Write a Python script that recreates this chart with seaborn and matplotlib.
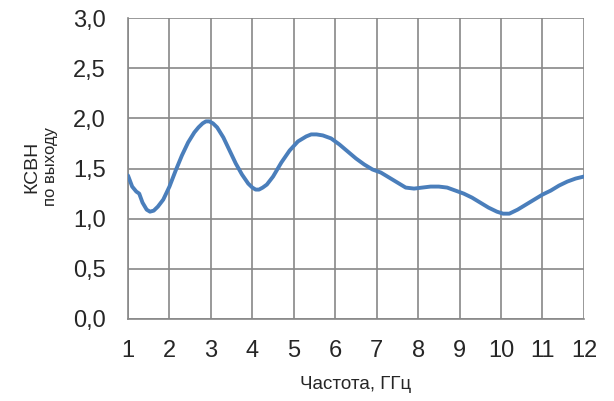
import matplotlib
matplotlib.use("Agg")
import matplotlib.pyplot as plt
import seaborn as sns
import pandas as pd

# --- Data ---
freq = [1.0, 1.1, 1.2, 1.27, 1.35, 1.45, 1.53, 1.62, 1.72, 1.85,
        2.0, 2.15, 2.3, 2.45, 2.6, 2.7, 2.8, 2.88, 2.96, 3.05, 3.15, 3.3,
        3.45, 3.6, 3.75, 3.9, 4.0, 4.08, 4.16, 4.25, 4.35, 4.5, 4.7, 4.9,
        5.1, 5.3, 5.42, 5.55, 5.7, 5.9, 6.1, 6.3, 6.5, 6.7, 6.9,
        7.1, 7.3, 7.5, 7.7, 7.9, 8.1, 8.3, 8.5, 8.7, 8.9,
        9.1, 9.3, 9.5, 9.7, 9.9, 10.05, 10.2, 10.4, 10.6, 10.8,
        11.0, 11.2, 11.4, 11.6, 11.8, 12.0]
vswr = [1.43, 1.32, 1.27, 1.25, 1.16, 1.09, 1.07, 1.08, 1.12, 1.19,
        1.32, 1.48, 1.63, 1.76, 1.86, 1.91, 1.95, 1.97, 1.97, 1.95, 1.91, 1.81,
        1.68, 1.55, 1.44, 1.35, 1.31, 1.29, 1.29, 1.31, 1.34, 1.42, 1.56, 1.68,
        1.77, 1.82, 1.84, 1.84, 1.83, 1.80, 1.74, 1.67, 1.60, 1.54, 1.49,
        1.46, 1.41, 1.36, 1.31, 1.30, 1.31, 1.32, 1.32, 1.31, 1.28,
        1.25, 1.21, 1.16, 1.11, 1.07, 1.05, 1.05, 1.09, 1.14, 1.19,
        1.24, 1.28, 1.33, 1.37, 1.40, 1.42]
x_ticks = list(range(1, 13))
y_ticks = [0.0, 0.5, 1.0, 1.5, 2.0, 2.5, 3.0]
y_labels = ["0,0", "0,5", "1,0", "1,5", "2,0", "2,5", "3,0"]

df = pd.DataFrame({"freq": freq, "vswr": vswr})

sns.set_style("white")
plt.rcParams["font.family"] = ["Liberation Sans", "DejaVu Sans"]

GRID = "#888888"

fig = plt.figure(figsize=(6.14, 4.01), dpi=100)
ax = fig.add_axes([0.2085, 0.2045, 0.7425, 0.7505])

sns.lineplot(data=df, x="freq", y="vswr", ax=ax, color="#4A7EBB",
             linewidth=2.8, zorder=3)

ax.set_xlim(1, 12)
ax.set_ylim(0, 3)
ax.set_xticks(x_ticks)
ax.set_yticks(y_ticks)
ax.set_yticklabels(y_labels)
ax.grid(True, color=GRID, linewidth=1.2)
ax.tick_params(axis="both", labelsize=17, length=6, width=1.2,
               color=GRID, pad=9, direction="out")
ax.tick_params(axis="y", pad=10)

for side in ["top", "right"]:
    ax.spines[side].set_visible(False)
for side in ["left", "bottom"]:
    ax.spines[side].set_color(GRID)
    ax.spines[side].set_linewidth(1.2)

ax.set_xlabel("Частота, ГГц", fontsize=13.5, labelpad=10)
ax.set_ylabel("")
fig.text(0.052, 0.585, "КСВН", rotation=90, fontsize=14,
         ha="center", va="center")
fig.text(0.082, 0.585, "по выходу", rotation=90, fontsize=12,
         ha="center", va="center")

plt.savefig("out.png", dpi=100)
